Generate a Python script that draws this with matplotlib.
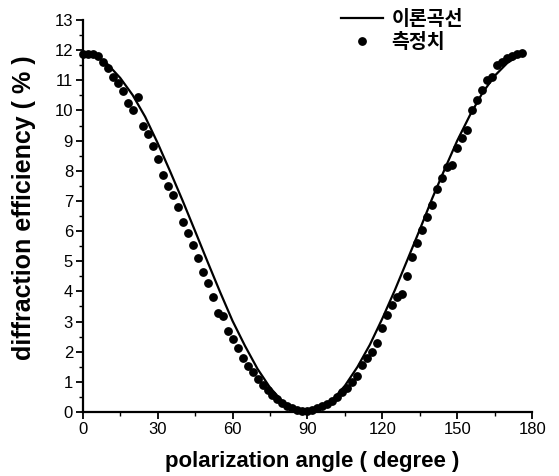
import matplotlib
matplotlib.use("Agg")
import matplotlib.pyplot as plt
from matplotlib.ticker import MultipleLocator

plt.rcParams['font.family'] = ['Liberation Sans', 'Noto Sans CJK KR', 'DejaVu Sans']

# measured points (polarization angle in degrees, efficiency in %)
meas_angle = list(range(0, 178, 2))
meas_eff = [11.88, 11.88, 11.86, 11.80, 11.60, 11.40, 11.12, 10.90, 10.66, 10.26,
            10.02, 10.44, 9.49, 9.23, 8.82, 8.39, 7.85, 7.50, 7.20, 6.79,
            6.29, 5.93, 5.54, 5.10, 4.65, 4.27, 3.82, 3.27, 3.18, 2.69,
            2.43, 2.11, 1.78, 1.53, 1.34, 1.08, 0.90, 0.73, 0.56, 0.42,
            0.31, 0.20, 0.13, 0.07, 0.04, 0.04, 0.07, 0.12, 0.20, 0.28,
            0.38, 0.50, 0.66, 0.80, 1.00, 1.20, 1.55, 1.80, 2.00, 2.30,
            2.80, 3.20, 3.55, 3.80, 3.90, 4.50, 5.15, 5.60, 6.05, 6.45,
            6.88, 7.40, 7.75, 8.12, 8.18, 8.75, 9.08, 9.35, 10.00, 10.35,
            10.68, 11.00, 11.12, 11.50, 11.62, 11.75, 11.82, 11.86, 11.92]

# theoretical curve
theo_angle = [0, 5, 10, 15, 20, 25, 30, 35, 40, 45, 50, 55, 60, 65, 70, 75, 80, 85, 90,
              95, 100, 105, 110, 115, 120, 125, 130, 135, 140, 145, 150, 155, 160, 165,
              170, 175, 177]
theo_eff = [11.90, 11.82, 11.53, 11.08, 10.51, 9.79, 8.92, 7.98, 7.01, 6.00, 4.98,
            3.98, 3.02, 2.19, 1.43, 0.81, 0.35, 0.075, 0.01, 0.105, 0.40, 0.87, 1.49,
            2.23, 3.10, 4.04, 5.04, 6.05, 7.09, 8.06, 9.00, 9.83, 10.57, 11.15,
            11.57, 11.84, 11.89]

x_ticks = [0, 30, 60, 90, 120, 150, 180]
y_ticks = list(range(0, 14))

fig = plt.figure(figsize=(5.59, 4.76), dpi=100)
ax = fig.add_axes([0.148, 0.1345, 0.804, 0.8235])

ax.plot(theo_angle, theo_eff, color='black', lw=1.6, label='이론곡선', clip_on=False)
ax.plot(meas_angle, meas_eff, 'o', color='black', ms=5.3, label='측정치', clip_on=False)

ax.set_xlim(0, 180)
ax.set_ylim(0, 13)
ax.set_xticks(x_ticks)
ax.set_yticks(y_ticks)
ax.xaxis.set_minor_locator(MultipleLocator(15))
ax.yaxis.set_minor_locator(MultipleLocator(0.5))
ax.tick_params(axis='both', which='major', direction='out', length=5, width=1.3, labelsize=12, pad=2)
ax.tick_params(axis='both', which='minor', direction='out', length=3, width=1.0)

for s in ['top', 'right']:
    ax.spines[s].set_visible(False)
for s in ['left', 'bottom']:
    ax.spines[s].set_linewidth(1.6)

ax.set_xlabel('polarization angle ( degree )', fontsize=16, fontweight='bold')
ax.set_ylabel('diffraction efficiency ( % )', fontsize=18, fontweight='bold')
ax.xaxis.set_label_coords(0.51, -0.1)
ax.yaxis.set_label_coords(-0.104, 0.52)

leg = ax.legend(loc='upper left', bbox_to_anchor=(0.535, 1.07), frameon=False,
                handlelength=2.2, handletextpad=0.4, labelspacing=0.2,
                prop={'family': ['Noto Sans CJK KR', 'DejaVu Sans'], 'size': 14, 'weight': 'bold'})

fig.savefig('out.png', dpi=100)
